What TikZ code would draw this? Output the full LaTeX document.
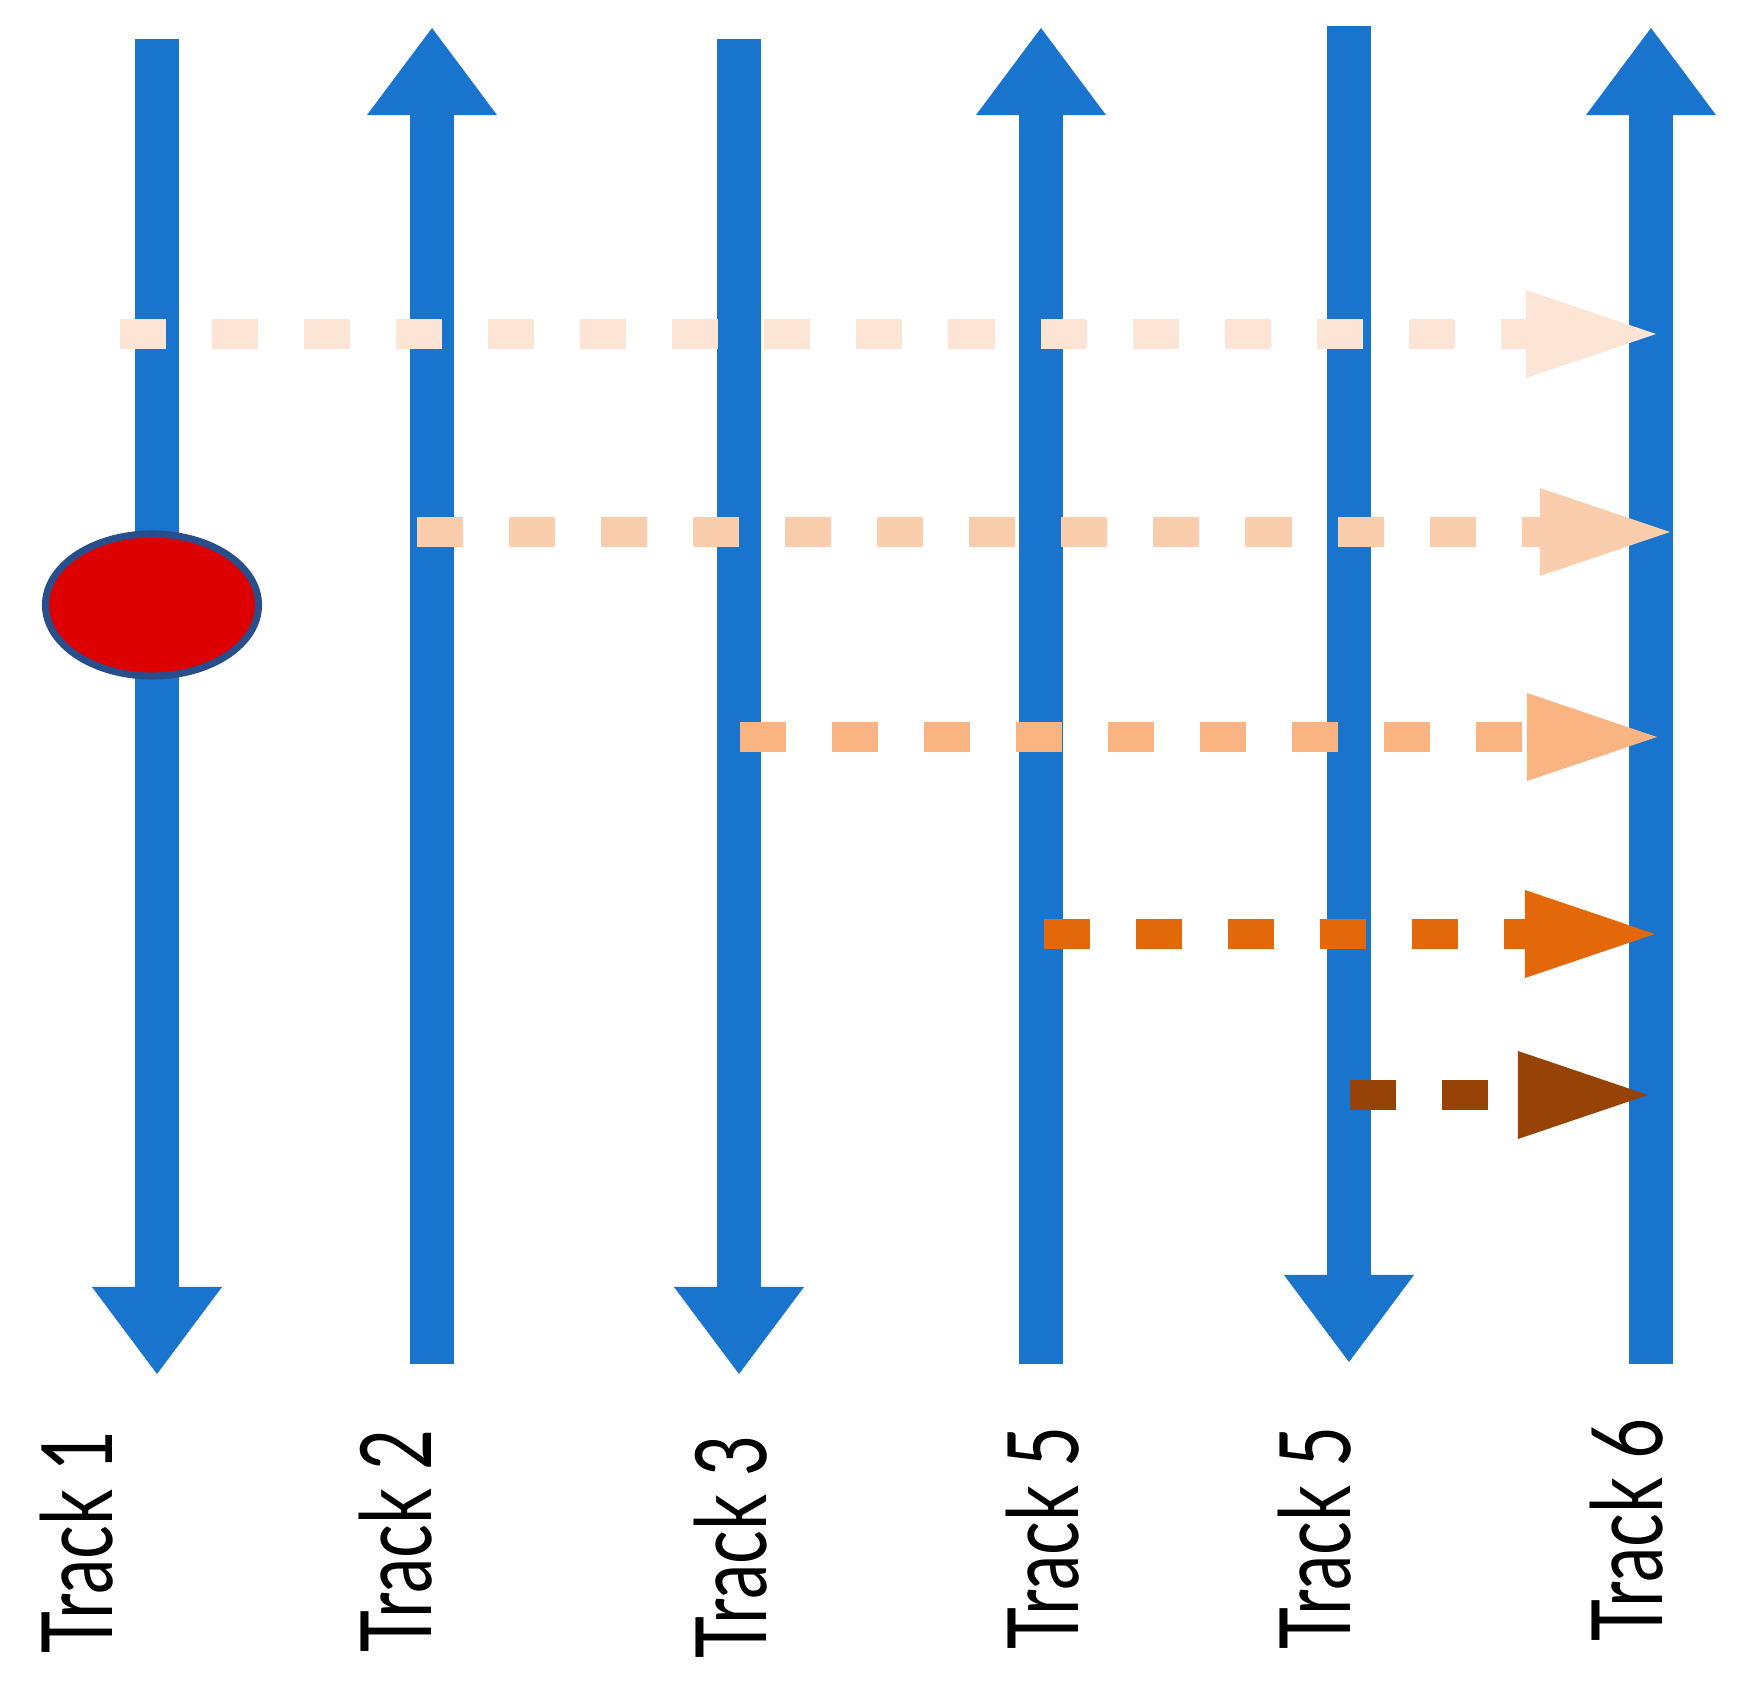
\documentclass[tikz,border=0pt]{standalone}
\usepackage{fontspec}
\newfontfamily\trackfont{Lato}
\usetikzlibrary{arrows.meta,shapes.geometric}
\definecolor{trackblue}{RGB}{24,116,205}
\definecolor{ballred}{RGB}{220,0,0}
\definecolor{balledge}{RGB}{40,78,140}
\definecolor{hopA}{RGB}{252,229,212}
\definecolor{hopB}{RGB}{250,206,172}
\definecolor{hopC}{RGB}{250,180,130}
\definecolor{hopD}{RGB}{227,104,9}
\definecolor{hopE}{RGB}{151,66,6}

\begin{document}
\begin{tikzpicture}[x=0.01cm,y=-0.01cm,
	track/.style={draw=trackblue,line width=0.44cm},
	tip/.style={-{Triangle[length=0.87cm,width=1.3cm,line width=0pt]}},
	hop/.style={line width=0.29cm,dash pattern=on 0.46cm off 0.46cm,
		-{Triangle[length=1.3cm,width=0.88cm,line width=0pt]}},
	tracklabel/.style={rotate=90,xscale=0.72,inner sep=0pt,anchor=base,
		font=\trackfont\fontsize{28}{34}\selectfont}]
		\useasboundingbox (0,0) rectangle (1744,1688);
		% track ends
		\coordinate (t1a) at (157,39);   \coordinate (t1b) at (157,1374);
		\coordinate (t2a) at (432,28);   \coordinate (t2b) at (432,1364);
		\coordinate (t3a) at (739,39);   \coordinate (t3b) at (739,1374);
		\coordinate (t4a) at (1041,28);  \coordinate (t4b) at (1041,1364);
		\coordinate (t5a) at (1349,26);  \coordinate (t5b) at (1349,1362);
		\coordinate (t6a) at (1651,28);  \coordinate (t6b) at (1651,1364);
		\draw[track,tip] (t1a)--(t1b);
		\draw[track,tip] (t2b)--(t2a);
		\draw[track,tip] (t3a)--(t3b);
		\draw[track,tip] (t4b)--(t4a);
		\draw[track,tip] (t5a)--(t5b);
		\draw[track,tip] (t6b)--(t6a);
		\node[ellipse,draw=balledge,fill=ballred,line width=0.07cm,inner sep=0pt,
			minimum width=2.13cm,minimum height=1.42cm] (ball) at (152,605) {};
		% hops towards track 6
		\coordinate (h1s) at (120,334);   \coordinate (h1e) at (1656,334);
		\coordinate (h2s) at (417,532);   \coordinate (h2e) at (1670,532);
		\coordinate (h3s) at (740,737);   \coordinate (h3e) at (1657,737);
		\coordinate (h4s) at (1044,934);  \coordinate (h4e) at (1655,934);
		\coordinate (h5s) at (1350,1095); \coordinate (h5e) at (1648,1095);
		\draw[hop,hopA] (h1s)--(h1e);
		\draw[hop,hopB] (h2s)--(h2e);
		\draw[hop,hopC] (h3s)--(h3e);
		\draw[hop,hopD] (h4s)--(h4e);
		\draw[hop,hopE] (h5s)--(h5e);
		% labels
		\node[tracklabel] (l1) at (113,1542) {Track 1};
		\node[tracklabel] (l2) at (431,1541) {Track 2};
		\node[tracklabel] (l3) at (766,1547) {Track 3};
		\node[tracklabel] (l4) at (1078,1538) {Track 5};
		\node[tracklabel] (l5) at (1350,1538) {Track 5};
		\node[tracklabel] (l6) at (1662,1530) {Track 6};
\end{tikzpicture}
\end{document}
